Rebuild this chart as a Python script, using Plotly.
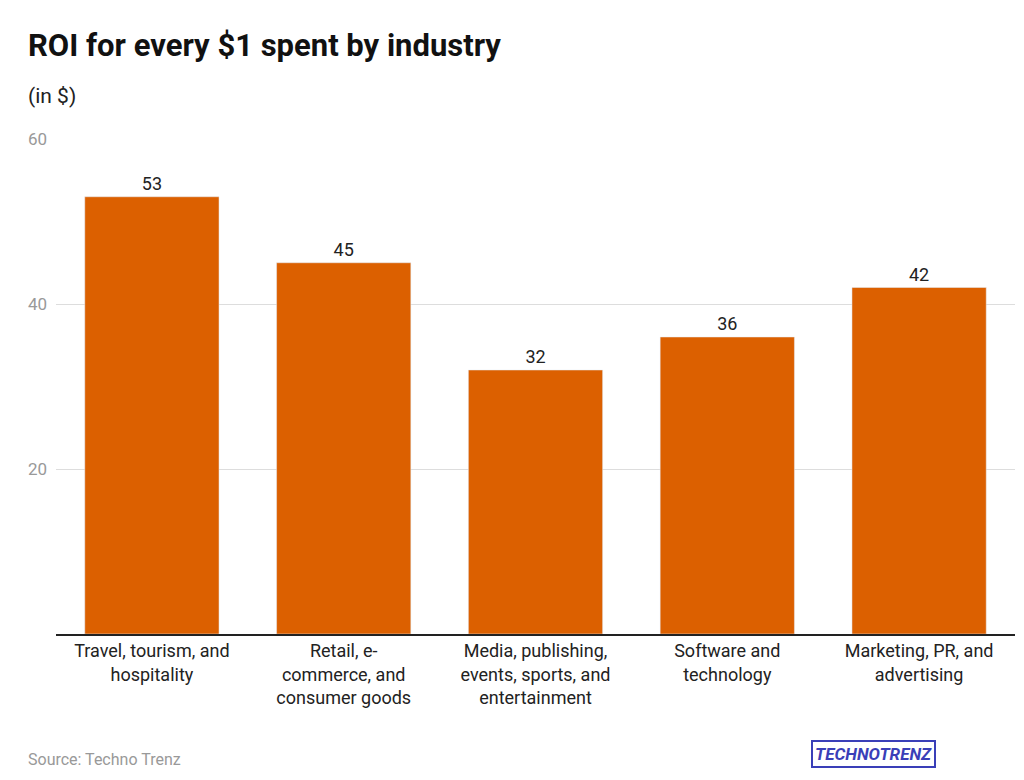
import plotly.graph_objects as go

categories = ["Travel, tourism, and<br>hospitality", "Retail, e-<br>commerce, and<br>consumer goods",
              "Media, publishing,<br>events, sports, and<br>entertainment", "Software and<br>technology",
              "Marketing, PR, and<br>advertising"]
values = [53, 45, 32, 36, 42]
tick_vals = [20, 40, 60]

fig = go.Figure(go.Bar(x=categories, y=values, marker_color="#dc6000", text=values,
                       textposition="outside", textfont=dict(size=18, color="#222"), cliponaxis=False))
fig.update_layout(
    width=1024, height=780, plot_bgcolor="white", paper_bgcolor="white",
    margin=dict(l=48, r=17, t=131, b=154), bargap=0.3, showlegend=False,
    font=dict(family="Roboto", color="#222"),
    xaxis=dict(tickfont=dict(size=18, color="#222"), showline=True, linecolor="#222", linewidth=1.5, ticks=""),
    yaxis=dict(range=[0, 60], tickvals=tick_vals, tickfont=dict(size=17, color="#999"),
               gridcolor="#ddd", showline=False, zeroline=False, ticklabelposition="outside", ticks="",
               ticklabelstandoff=8),
    annotations=[
        dict(text="<b>ROI for every $1 spent by industry</b>", x=18, y=38, xref="paper", yref="paper", showarrow=False),
    ],
)
fig.layout.annotations = []
for txt, x, y, sz, col in [("<b>ROI for every $1 spent by industry</b>", 18, 38, 31, "#111"),
                           ("(in $)", 18, 88, 21, "#222"),
                           ("Source: Techno Trenz", 18, 751, 16, "#999")]:
    fig.add_annotation(text=txt, x=x/1024, y=1-y/780, xref="paper", yref="paper", showarrow=False,
                       xanchor="left", yanchor="middle", font=dict(size=sz, color=col))
fig.update_annotations(xref="paper", yref="paper")
# place annotations in page coords
for a in fig.layout.annotations:
    a.xref = "paper"; a.yref = "paper"
    a.x = (a.x*1024 - 48) / (1024-48-17)
    a.y = ((1-a.y)*780 - 626) / (131 - 626)
fig.add_annotation(text="<b><i>TECHNOTRENZ</i></b>", x=(928-48)/959, y=(760-626)/(131-626), xref="paper", yref="paper",
                   showarrow=False, font=dict(size=17, color="#3a3fb8"), bordercolor="#3a3fb8", borderwidth=2,
                   borderpad=2)
fig.write_html("out.html")
